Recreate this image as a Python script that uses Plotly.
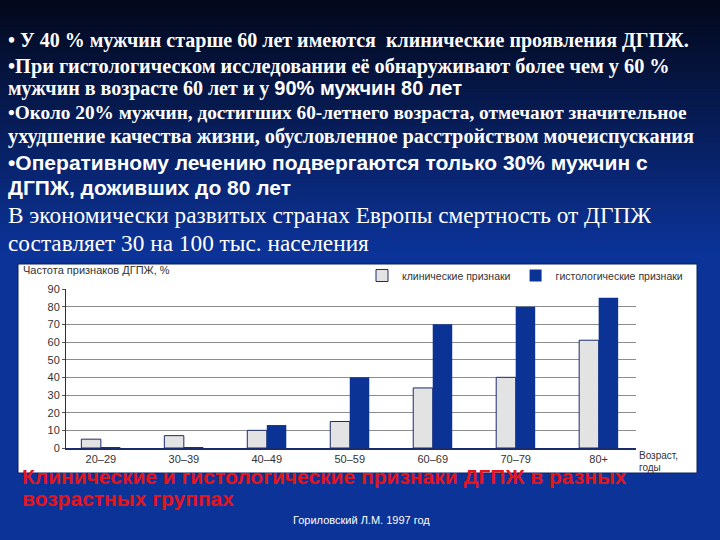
import plotly.graph_objects as go

# ---- data ----
categories = ["20–29", "30–39", "40–49", "50–59", "60–69", "70–79", "80+"]
clinical = [5, 7, 10, 15, 34, 40, 61]
histological = [0.5, 0.5, 13, 40, 70, 80, 85]
y_tick_vals = [0, 10, 20, 30, 40, 50, 60, 70, 80, 90]
series_names = ["клинические признаки", "гистологические признаки"]

W, H = 720, 540
L, R, T, B = 66, 636, 289, 448


def px(x):
    return (x - L) / (R - L)


def py(y):
    return (B - y) / (B - T)


BLUE = "#0c3398"
BAR_BLUE = "#0b3396"
NAVY = "#1a2c6c"

fig = go.Figure()
fig.add_trace(go.Bar(x=categories, y=clinical, name=series_names[0],
                     marker=dict(color="#e3e3e3", line=dict(color=NAVY, width=1))))
fig.add_trace(go.Bar(x=categories, y=histological, name=series_names[1],
                     marker=dict(color=BAR_BLUE, line=dict(width=0))))

shapes = []
# background gradient (top dark -> blue)
n = 28
top_c = (3, 8, 26)
bot_c = (12, 51, 152)
stripe_h = 250 / n
for i in range(n):
    t = (i + 0.5) / n
    c = tuple(int(top_c[k] + (bot_c[k] - top_c[k]) * t) for k in range(3))
    shapes.append(dict(type="rect", xref="paper", yref="paper",
                       x0=px(0), x1=px(W), y0=py(i * stripe_h + stripe_h + 0.5), y1=py(i * stripe_h),
                       fillcolor="rgb(%d,%d,%d)" % c, line=dict(width=0), layer="below"))
# white chart panel
shapes.append(dict(type="rect", xref="paper", yref="paper",
                   x0=px(18), x1=px(697), y0=py(473), y1=py(264),
                   fillcolor="white", line=dict(color="#0a1f60", width=1), layer="below"))

ann = []


def txt(x, y, s, size, family, color="white", xanchor="left", weight="normal"):
    ann.append(dict(x=px(x), y=py(y), xref="paper", yref="paper", text=s, showarrow=False,
                    xanchor=xanchor, yanchor="middle", align="left",
                    font=dict(size=size, family=family, color=color, weight=weight)))


SERIF = "Liberation Serif, Times New Roman, serif"
SANS = "Liberation Sans, Arial, sans-serif"
txt(6, 40, "• У 40 % мужчин старше 60 лет имеются  клинические проявления ДГПЖ.", 20, SERIF, weight="bold")
txt(6, 66, "•При гистологическом исследовании её обнаруживают более чем у 60 %", 20.3, SERIF, weight="bold")
txt(6, 88, "мужчин в возрасте 60 лет и у <span style='font-family:Liberation Sans'>90% мужчин 80 лет</span>", 20, SERIF, weight="bold")
txt(6, 112, "•Около 20% мужчин, достигших 60-летнего возраста, отмечают значительное", 19.3, SERIF, weight="bold")
txt(6, 136, "ухудшение качества жизни, обусловленное расстройством мочеиспускания", 20.3, SERIF, weight="bold")
txt(6, 162, "•Оперативному лечению подвергаются только 30% мужчин с", 21, SANS, weight="bold")
txt(6, 187, "ДГПЖ, доживших до 80 лет", 21, SANS, weight="bold")
txt(6, 215, "В экономически развитых странах Европы смертность от ДГПЖ", 23.3, SERIF)
txt(6, 243, "составляет 30 на 100 тыс. населения", 23.3, SERIF)

txt(21, 270, "Частота признаков ДГПЖ, %", 11, SANS, color="#333333")
txt(637, 455, "Возраст,", 10, SANS, color="#333333")
txt(637, 467, "годы", 10, SANS, color="#333333")

txt(20, 476, "Клинические и гистологические признаки ДГПЖ в разных", 21, SANS, color="#e3161c", weight="bold")
txt(20, 498, "возрастных группах", 21, SANS, color="#e3161c", weight="bold")
txt(361, 520, "Гориловский Л.М. 1997 год", 11, SANS, xanchor="center")

fig.update_layout(
    width=W, height=H,
    margin=dict(l=L, r=W - R, t=T, b=H - B, pad=0),
    paper_bgcolor=BLUE, plot_bgcolor="rgba(0,0,0,0)",
    barmode="group", bargap=0.53, bargroupgap=0,
    shapes=shapes, annotations=ann,
    showlegend=True,
    legend=dict(orientation="h", x=px(362), y=py(261), xanchor="left", yanchor="top",
                font=dict(size=10.5, family=SANS, color="#333333"), bgcolor="rgba(0,0,0,0)",
                itemwidth=30, tracegroupgap=0),
    xaxis=dict(type="category", range=[-0.42, 6.45], showline=True, linecolor=NAVY, linewidth=1.5,
               ticks="", tickfont=dict(size=11, family=SANS, color="#333333"), showgrid=False),
    yaxis=dict(range=[0, 90], tickvals=y_tick_vals, showgrid=True, gridcolor="#8c8c8c", gridwidth=1,
               showline=True, linecolor=NAVY, linewidth=1, ticks="outside", ticklen=3,
               tickcolor="#555555", zeroline=False,
               tickfont=dict(size=11, family=SANS, color="#333333")),
)

fig.write_html("out.html", config={"displayModeBar": False},
               post_script="document.body.style.margin='0px';")
